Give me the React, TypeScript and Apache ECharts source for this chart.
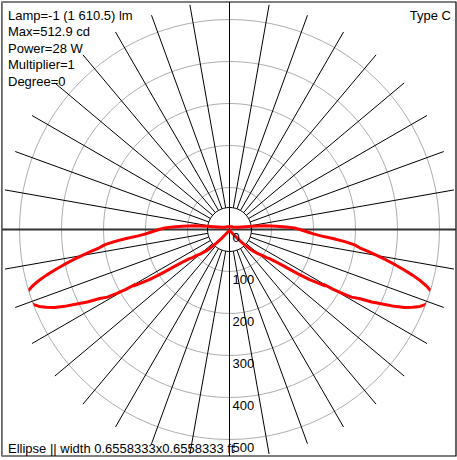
import React, { useEffect, useRef } from "react";
import * as echarts from "echarts";

// ---- data ----
const HEADER_LINES = ["Lamp=-1 (1 610.5) lm", "Max=512.9 cd", "Power=28 W", "Multiplier=1", "Degree=0"];
const TYPE_LABEL = "Type C";
const FOOTER_LINE = "Ellipse || width 0.6558333x0.6558333 ft";
const RADIUS_TICKS = [0, 100, 200, 300, 400, 500];
const RAY_ANGLES = [10, 20, 30, 40, 50, 60, 70, 80, 100, 110, 120, 130, 140, 150, 160, 170,
  190, 200, 210, 220, 230, 240, 250, 260, 280, 290, 300, 310, 320, 330, 340, 350];

// nadir angle (deg) and intensity (cd), C0 plane; C180 mirrors it
const GAMMA = [0, 10, 20, 30, 35, 38, 40, 42, 44, 46, 48, 50, 52, 53, 54, 55, 56, 57, 58, 59, 59.5, 59.8, 60, 60.5,
  61, 62, 63, 64, 65, 66, 67, 68, 69, 70, 71, 71.5, 72, 73, 74, 75, 76, 77, 78, 79, 80, 81, 82, 83, 84, 85,
  86, 87, 88, 89, 90, 91, 92, 93, 94, 95, 96, 97, 98, 100, 102, 105, 110, 120, 135, 150, 165, 180];
const C0_CD = [1, 1, 2, 4, 8, 12, 18, 32, 46, 63, 78, 90, 102, 112, 118, 132, 155, 192, 225, 250, 266, 258, 285, 310,
  332, 350, 380, 405, 433, 456, 474, 489, 499, 506, 511, 512.9, 511, 502, 488, 470, 449, 426, 403, 380, 357, 334, 313, 300, 276, 247,
  218, 200, 188, 177, 168, 158, 145, 128, 112, 97, 83, 70, 55, 38, 29, 21, 15, 11, 9, 8, 7, 7];

const W = 457;
const H = 460;
const CX = 229.5;
const CY = 229.5;
const R_PX = 210; // 500 cd
const INNER_PX = 22;
const RAY_PX = 228;

export default function App() {
  const ref = useRef<HTMLDivElement>(null);
  useEffect(() => {
    if (!ref.current) return;
    const chart = echarts.init(ref.current, null, { renderer: "svg" });
    const maxR = 500;
    const pxPerCd = R_PX / maxR;
    const innerCd = INNER_PX / pxPerCd;
    const rayCd = RAY_PX / pxPerCd;

    const curve: number[][] = [];
    for (let i = 0; i < GAMMA.length; i++) curve.push([C0_CD[i], GAMMA[i]]);
    for (let i = GAMMA.length - 1; i >= 0; i--) curve.push([C0_CD[i], 360 - GAMMA[i]]);

    const font = "'Liberation Sans', Arial, sans-serif";
    const graphics: any[] = [];
    HEADER_LINES.forEach((t, i) => {
      graphics.push({
        type: "text", x: 8, y: 15.5 + i * 16.4, z: 10,
        style: { text: t, font: `13px ${font}`, fill: "#000", verticalAlign: "middle", align: "left" },
      });
    });
    graphics.push({
      type: "text", x: 451, y: 15.5, z: 10,
      style: { text: TYPE_LABEL, font: `13px ${font}`, fill: "#000", verticalAlign: "middle", align: "right" },
    });
    graphics.push({
      type: "text", x: 8, y: 448, z: 10,
      style: { text: FOOTER_LINE, font: `13px ${font}`, fill: "#000", verticalAlign: "middle", align: "left" },
    });
    // frame
    graphics.push({ type: "rect", z: 1, shape: { x: 2, y: 2, width: 454, height: 454 }, style: { fill: "none", stroke: "#000", lineWidth: 1.2 } });
    graphics.push({ type: "line", z: 1, shape: { x1: 2.5, y1: 2, x2: 2.5, y2: 456 }, style: { stroke: "#888", lineWidth: 1 } });
    // cross axes
    graphics.push({ type: "line", z: 3, shape: { x1: CX, y1: 2, x2: CX, y2: 456 }, style: { stroke: "#000", lineWidth: 1 } });
    graphics.push({ type: "line", z: 3, shape: { x1: 2, y1: CY, x2: 456, y2: CY }, style: { stroke: "#333", lineWidth: 2 } });
    // inner circle
    graphics.push({ type: "circle", z: 3, shape: { cx: CX, cy: CY, r: INNER_PX }, style: { fill: "none", stroke: "#000", lineWidth: 1 } });

    chart.setOption({
      animation: false,
      polar: { center: [CX, CY], radius: R_PX },
      angleAxis: {
        type: "value", min: 0, max: 360, startAngle: -90, clockwise: false,
        axisLine: { show: false }, axisTick: { show: false }, axisLabel: { show: false }, splitLine: { show: false },
      },
      radiusAxis: {
        type: "value", min: 0, max: maxR, interval: 100,
        axisLine: { show: false }, axisTick: { show: false }, axisLabel: { show: false },
        splitLine: { show: true, lineStyle: { color: "#adadad", width: 1 } },
      },
      graphic: graphics,
      series: [
        {
          type: "custom", coordinateSystem: "polar", z: 1, silent: true,
          data: RAY_ANGLES.map((a) => [0, a]),
          renderItem: (_p: any, api: any) => {
            const a = api.value(1);
            const p0 = api.coord([innerCd, a]);
            const p1 = api.coord([rayCd, a]);
            return { type: "line", shape: { x1: p0[0], y1: p0[1], x2: p1[0], y2: p1[1] }, style: { stroke: "#000", lineWidth: 1 } };
          },
        },
        {
          type: "custom", coordinateSystem: "polar", z: 6, silent: true,
          data: RADIUS_TICKS.map((v) => [v, 0]),
          renderItem: (_p: any, api: any) => {
            const v = api.value(0);
            const p = api.coord([v, 0]);
            return {
              type: "text", x: p[0] + 3, y: p[1] + 1.5,
              style: { text: String(v), font: `13px ${font}`, fill: "#000", align: "left", verticalAlign: "top" },
            };
          },
        },
        {
          type: "line", coordinateSystem: "polar", z: 5, clip: false, silent: true,
          showSymbol: false, symbol: "none", smooth: false,
          data: curve,
          lineStyle: { color: "#ff0000", width: 3 },
        },
      ],
    });
    return () => chart.dispose();
  }, []);
  return <div ref={ref} style={{ position: "fixed", left: 0, top: 0, width: W, height: H, background: "#fff" }} />;
}
